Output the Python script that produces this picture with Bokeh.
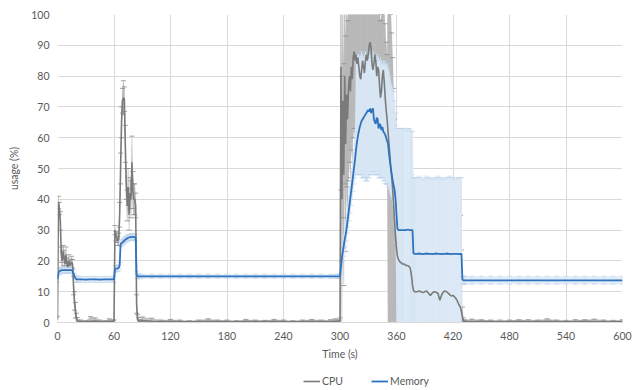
import numpy as np
from bokeh.plotting import figure
from bokeh.layouts import column
from bokeh.models import ColumnDataSource, Range1d, Legend, LegendItem
from bokeh.embed import file_html
from bokeh.resources import INLINE

# ---- sampling instants (s) ----
time_s = (list(range(0, 23))
          + [25, 30, 35, 40, 45, 50, 55, 59]
          + list(range(60, 88))
          + list(range(90, 300, 10)) + [295, 298, 299]
          + list(range(300, 367))
          + [367, 368, 370, 372, 374, 375, 376, 377, 378, 379, 380]
          + list(range(382, 429, 2)) + [429, 430, 431, 432, 433]
          + list(range(440, 601, 10)))

# ---- CPU usage (%) and its error ----
cpu = [1, 39, 37, 33, 22, 20, 23, 21, 19, 22, 19, 18, 20, 18.5, 19, 19.5, 19, 12, 7, 4, 1.5, 0.6, 0.3,
       0.3, 0.2, 0.4, 0.5, 0.3, 0.2, 0.4, 0.3,
       0.3, 30, 28, 27.5, 26.5, 27, 35, 50, 65, 72, 73, 72.5, 58, 45, 38, 44, 35, 42, 40, 52,
       43, 40, 40, 38, 6, 1, 0.6, 0.4,
       0.6, 0.4, 0.3, 0.4, 0.3, 0.2, 0.3, 0.4, 0.3, 0.3, 0.2, 0.4, 0.3, 0.3, 0.4, 0.3, 0.2, 0.3,
       0.4, 0.3, 0.3, 0.4, 0.3, 0.3,
       0.5, 83, 40, 72, 48, 80, 58, 74, 66, 76,
       80, 75, 83, 79, 86, 88, 85, 87, 84, 86,
       83, 80, 79, 82, 85, 83, 81, 85, 87, 85,
       87, 90, 91, 89, 84, 82, 84, 87, 85, 80,
       83, 82, 77, 73, 75, 80, 82, 78, 73, 69,
       66, 62, 58, 54, 50, 47, 43, 38, 33, 28,
       24, 21.5, 20.5, 20, 19.5, 19.5, 19,
       19, 19, 18.5, 18.5, 18, 17, 15, 12, 10.5, 10, 10,
       10, 10.2, 10, 9.7, 10, 10.2, 9.5, 8.8, 9.6, 10, 9.8, 9.5, 7.2, 9, 10, 10.2, 9.8, 9.2,
       8.6, 8.8, 8.2, 7.4, 6, 4.8, 3.5, 2, 0.5, 0.3, 0.3,
       0.3, 0.4, 0.3, 0.2, 0.3, 0.4, 0.3, 0.3, 0.4, 0.3, 0.2, 0.3, 0.4, 0.3, 0.3, 0.2, 0.3]

cpu_err = [1, 2, 2, 3, 2.5, 3, 2, 2.5, 2, 2.5, 2, 1.5, 2, 1.5, 1.5, 2, 1.5, 3, 3, 2.5, 1.5, 1, 0.5,
           0.5, 0.4, 1.5, 1, 0.5, 0.4, 0.8, 0.5,
           0.5, 1.5, 1.5, 1.5, 1.5, 2, 4, 5, 5, 4, 5.5, 4, 6, 5, 5, 6, 5, 5, 6, 8.5,
           6, 5, 5, 4, 3, 1.5, 1, 0.5,
           1.2, 1, 0.5, 0.6, 0.5, 0.4, 0.5, 0.8, 0.5, 0.5, 0.4, 0.6, 0.5, 0.4, 0.6, 0.5, 0.4, 0.5,
           0.6, 0.5, 0.6, 0.8, 0.5, 0.5,
           1, 40, 40, 38, 36, 35, 35, 30, 32, 30,
           28, 28, 27, 27, 26, 25, 25, 25, 25, 25,
           25, 25, 25, 25, 25, 25, 25, 25, 25, 25,
           25, 25, 25, 25, 25, 25, 25, 25, 25, 25,
           25, 25, 25, 25, 25, 25, 24, 24, 24, 22,
           21, 62, 58, 54, 50, 47, 43, 38, 33, 30,
           30, 35, 35, 35, 35, 35, 35,
           35, 35, 35, 35, 35, 35, 33, 30, 30, 30, 30,
           30, 31, 30, 29, 30, 31, 30, 30, 29, 30, 31, 30, 30, 29, 30, 30, 31, 30,
           29, 30, 30, 30, 29, 30, 20, 3, 1, 0.5, 0.5,
           0.8, 0.5, 0.5, 0.6, 0.5, 0.5, 0.6, 0.5, 0.8, 0.5, 0.5, 0.6, 0.5, 0.8, 0.5, 0.5, 0.6]

# ---- Memory usage (%) with lower / upper error bounds ----
mem = [14, 16.3, 16.6, 16.8, 16.9, 17, 17, 17, 17, 17, 17, 17, 17, 17, 17, 17, 16.8, 16, 15, 14.4, 14.1, 14, 14,
       14, 13.9, 14, 14, 13.9, 14, 14, 14,
       14, 17.3, 17.5, 17.5, 17.6, 17.8, 18.5, 25.5, 25.8, 26, 26.3, 26.6, 26.9, 27.1, 27.3, 27.5,
       27.6, 27.7, 27.7, 27.8, 27.8, 27.8, 27.7, 27.5, 15.5, 15, 15, 15,
       15, 15, 15, 15, 15, 15, 15, 15, 15, 15, 15, 15, 15, 15, 15, 15, 15, 15, 15, 15, 15, 15, 15, 15,
       15, 18, 21, 23, 25, 27, 28.5, 30.5, 33, 35.5,
       38, 40.5, 43, 45.5, 48, 50.5, 53, 56, 58.5, 60.5,
       62, 63.5, 64.5, 65.5, 66, 66.5, 67, 67.5, 68, 68.5,
       69, 68.5, 69.5, 68, 69, 69.5, 66, 65, 64.5, 66.5,
       66, 63, 64.5, 64, 62.5, 63.5, 62, 61.5, 61, 60,
       59, 58, 55, 52.5, 50, 48, 46, 44.5, 43, 40,
       35, 30.5, 30, 30, 30, 30, 30,
       30, 30, 30, 30.2, 30, 30, 30, 30, 22.5, 22.3, 22.3,
       22.3, 22.4, 22.3, 22.2, 22.3, 22.4, 22.3, 22.3, 22.2, 22.3, 22.4, 22.3, 22.3, 22.2, 22.3, 22.3,
       22.4, 22.3, 22.2, 22.3, 22.3, 22.3, 22.2, 22.3, 22.3, 14, 13.7, 13.7, 13.7,
       13.7, 13.7, 13.7, 13.7, 13.7, 13.7, 13.7, 13.7, 13.7, 13.7, 13.7, 13.7, 13.7, 13.7, 13.7, 13.7, 13.7]

mem_low = [13, 15.3, 15.6, 15.8, 15.9, 16, 16, 16, 16, 16, 16, 16, 16, 16, 16, 16, 15.8, 15, 14, 13.4, 13.1, 13, 13,
           13, 12.9, 13, 13, 12.9, 13, 13, 13,
           13, 16.3, 16.5, 16.5, 16.6, 16.8, 17.5, 24.5, 24.8, 25, 25.3, 25.6, 25.9, 26.1, 26.3, 26.5,
           26.6, 26.7, 26.7, 26.8, 26.8, 26.8, 26.7, 26.5, 14.5, 14.2, 14.2, 14.2,
           14.3, 14.3, 14.3, 14.3, 14.3, 14.3, 14.3, 14.3, 14.3, 14.3, 14.3, 14.3, 14.3, 14.3, 14.3, 14.3,
           14.3, 14.3, 14.3, 14.3, 14.3, 14.3, 14.3, 14.3,
           14.3, 16, 18, 20, 21.5, 23, 24.5, 26.5, 29, 31,
           33, 35.5, 38, 40, 42.5, 45, 47, 48, 48, 48,
           48, 48, 48, 47, 47, 47, 47, 46, 46, 46,
           47, 47, 48, 48, 48, 49, 48, 48, 48, 48,
           48, 47, 47, 47, 47, 47, 46, 46, 45, 45,
           45, 44, 43, 42, 41, 40, 38, 36, 32, 26,
           0, 0, 0, 0, 0, 0, 0,
           0, 0, 0, 0, 0, 0, 0, 0, 0, 0, 0,
           0, 0, 0, 0, 0, 0, 0, 0, 0, 0, 0, 0, 0, 0, 0, 0, 0, 0, 0, 0, 0, 0, 0, 0,
           0, 12.4, 12.4, 12.4, 12.4,
           12.4, 12.4, 12.4, 12.4, 12.4, 12.4, 12.4, 12.4, 12.4, 12.4, 12.4, 12.4, 12.4, 12.4, 12.4, 12.4, 12.4]

mem_high = [15, 17.3, 17.6, 17.8, 17.9, 18, 18, 18, 18, 18, 18, 18, 18, 18, 18, 18, 17.8, 17, 16, 15.4, 15.1, 15, 15,
            15, 14.9, 15, 15, 14.9, 15, 15, 15,
            15, 18.3, 18.5, 18.5, 18.6, 18.8, 19.5, 26.5, 26.8, 27, 27.3, 27.6, 27.9, 28.1, 28.3, 28.5,
            28.6, 28.7, 28.7, 28.8, 28.8, 28.8, 28.7, 28.5, 16.5, 15.8, 15.8, 15.8,
            15.7, 15.7, 15.7, 15.7, 15.7, 15.7, 15.7, 15.7, 15.7, 15.7, 15.7, 15.7, 15.7, 15.7, 15.7, 15.7,
            15.7, 15.7, 15.7, 15.7, 15.7, 15.7, 15.7, 15.7,
            15.7, 20, 24, 26, 29, 31, 33, 35, 38, 41,
            44, 46, 49, 52, 55, 58, 62, 84, 86, 87,
            87, 86, 87, 88, 87, 86, 87, 88, 87, 86,
            87, 88, 87, 86, 87, 88, 87, 86, 87, 86,
            87, 86, 85, 86, 85, 84, 85, 84, 85, 84,
            84, 83, 82, 80, 78, 77, 76, 75, 72, 68,
            64, 63, 63, 63, 63, 63, 63,
            63, 63, 62.5, 63, 63, 62.5, 62, 62, 47, 47, 47,
            47, 47.5, 47, 46.5, 47, 47.5, 47, 47, 46.5, 47, 47, 47.5, 47, 47, 46.5, 47,
            47, 47.5, 47, 47, 46.5, 47, 47, 47, 47, 15, 15, 15, 15,
            15, 15, 15, 15, 15, 15, 15, 15, 15, 15, 15, 15, 15, 15, 15, 15, 15]

n = len(time_s)
for name, arr in [("cpu", cpu), ("cpu_err", cpu_err), ("mem", mem), ("mem_low", mem_low), ("mem_high", mem_high)]:
    assert len(arr) == n, (name, len(arr), n)

c = np.array(cpu, dtype=float)
ce = np.array(cpu_err, dtype=float)
src = ColumnDataSource(dict(
    t=time_s, cpu=cpu, cpu_lo=c - ce, cpu_hi=c + ce,
    mem=mem, mem_lo=mem_low, mem_hi=mem_high,
))

FONT = "Lato"
TXT = "#595959"
GRID = "#d9d9d9"
CPU_COLOR = "#7a7a7a"
MEM_COLOR = "#2f72be"

p = figure(width=644, height=366, output_backend="svg", toolbar_location=None,
           x_range=Range1d(0, 600), y_range=Range1d(0, 100),
           min_border_left=57, min_border_right=22, min_border_top=14, min_border_bottom=44)
p.outline_line_color = None
p.background_fill_color = "white"
p.border_fill_color = "white"

# error bands and bars
p.varea(x="t", y1="cpu_lo", y2="cpu_hi", source=src, fill_color="#c6c6c6")
p.segment(x0="t", y0="cpu_lo", x1="t", y1="cpu_hi", source=src, line_color="#a8a8a8", line_width=1, line_alpha=0.45)
p.scatter(x="t", y="cpu_hi", source=src, marker="dash", size=5, line_color="#8c8c8c", line_width=1, line_alpha=0.8)
p.scatter(x="t", y="cpu_lo", source=src, marker="dash", size=5, line_color="#8c8c8c", line_width=1, line_alpha=0.8)

p.varea(x="t", y1="mem_lo", y2="mem_hi", source=src, fill_color="#e1edf8")
p.segment(x0="t", y0="mem_lo", x1="t", y1="mem_hi", source=src, line_color="#cfe0f2", line_width=1, line_alpha=0.5)
p.scatter(x="t", y="mem_hi", source=src, marker="dash", size=5, line_color="#bcd2ea", line_width=1, line_alpha=0.6)
p.scatter(x="t", y="mem_lo", source=src, marker="dash", size=5, line_color="#bcd2ea", line_width=1, line_alpha=0.6)

p.line(x="t", y="cpu", source=src, line_color=CPU_COLOR, line_width=1.6)
p.line(x="t", y="mem", source=src, line_color=MEM_COLOR, line_width=1.8)

# axes
p.xaxis.ticker = list(range(0, 601, 60))
p.yaxis.ticker = list(range(0, 101, 10))
p.xgrid.ticker = list(range(0, 601, 60))
p.ygrid.ticker = list(range(0, 101, 10))
p.grid.grid_line_color = GRID
p.grid.grid_line_width = 1

for ax in (p.xaxis[0], p.yaxis[0]):
    ax.major_tick_line_color = None
    ax.minor_tick_line_color = None
    ax.major_tick_out = 0
    ax.major_tick_in = 0
    ax.major_label_text_font = FONT
    ax.major_label_text_font_size = "10.5px"
    ax.major_label_text_color = TXT
    ax.axis_label_text_font = FONT
    ax.axis_label_text_font_size = "10.5px"
    ax.axis_label_text_font_style = "normal"
    ax.axis_label_text_color = TXT

p.yaxis.axis_line_color = None
p.xaxis.axis_line_color = GRID
p.xaxis.axis_label = "Time (s)"
p.yaxis.axis_label = "usage (%)"
p.xaxis.major_label_standoff = 9
p.yaxis.major_label_standoff = 8
p.xaxis.axis_label_standoff = 5
p.yaxis.axis_label_standoff = 8

# legend strip under the chart (proxy renderers sit outside the visible range)
leg = figure(width=644, height=24, output_backend="svg", toolbar_location=None,
             x_range=Range1d(0, 1), y_range=Range1d(0, 1),
             x_axis_location=None, y_axis_location=None,
             min_border_left=0, min_border_right=0, min_border_top=0, min_border_bottom=0)
leg.grid.visible = False
leg.outline_line_color = None
leg.background_fill_color = "white"
leg.border_fill_color = "white"
r_cpu = leg.line(x=[-5, -4], y=[-5, -5], line_color=CPU_COLOR, line_width=1.6)
r_mem = leg.line(x=[-5, -4], y=[-5, -5], line_color=MEM_COLOR, line_width=1.8)
legend = Legend(items=[LegendItem(label="CPU", renderers=[r_cpu]),
                       LegendItem(label="Memory", renderers=[r_mem])],
                orientation="horizontal", location=(246, 3),
                label_text_font=FONT, label_text_font_size="10.5px", label_text_color=TXT,
                glyph_width=17, glyph_height=10, label_standoff=2, spacing=28,
                padding=0, margin=0, border_line_color=None, background_fill_alpha=0)
leg.add_layout(legend, "center")

layout = column(p, leg, spacing=0)
open("out.html", "w").write(file_html(layout, INLINE))
